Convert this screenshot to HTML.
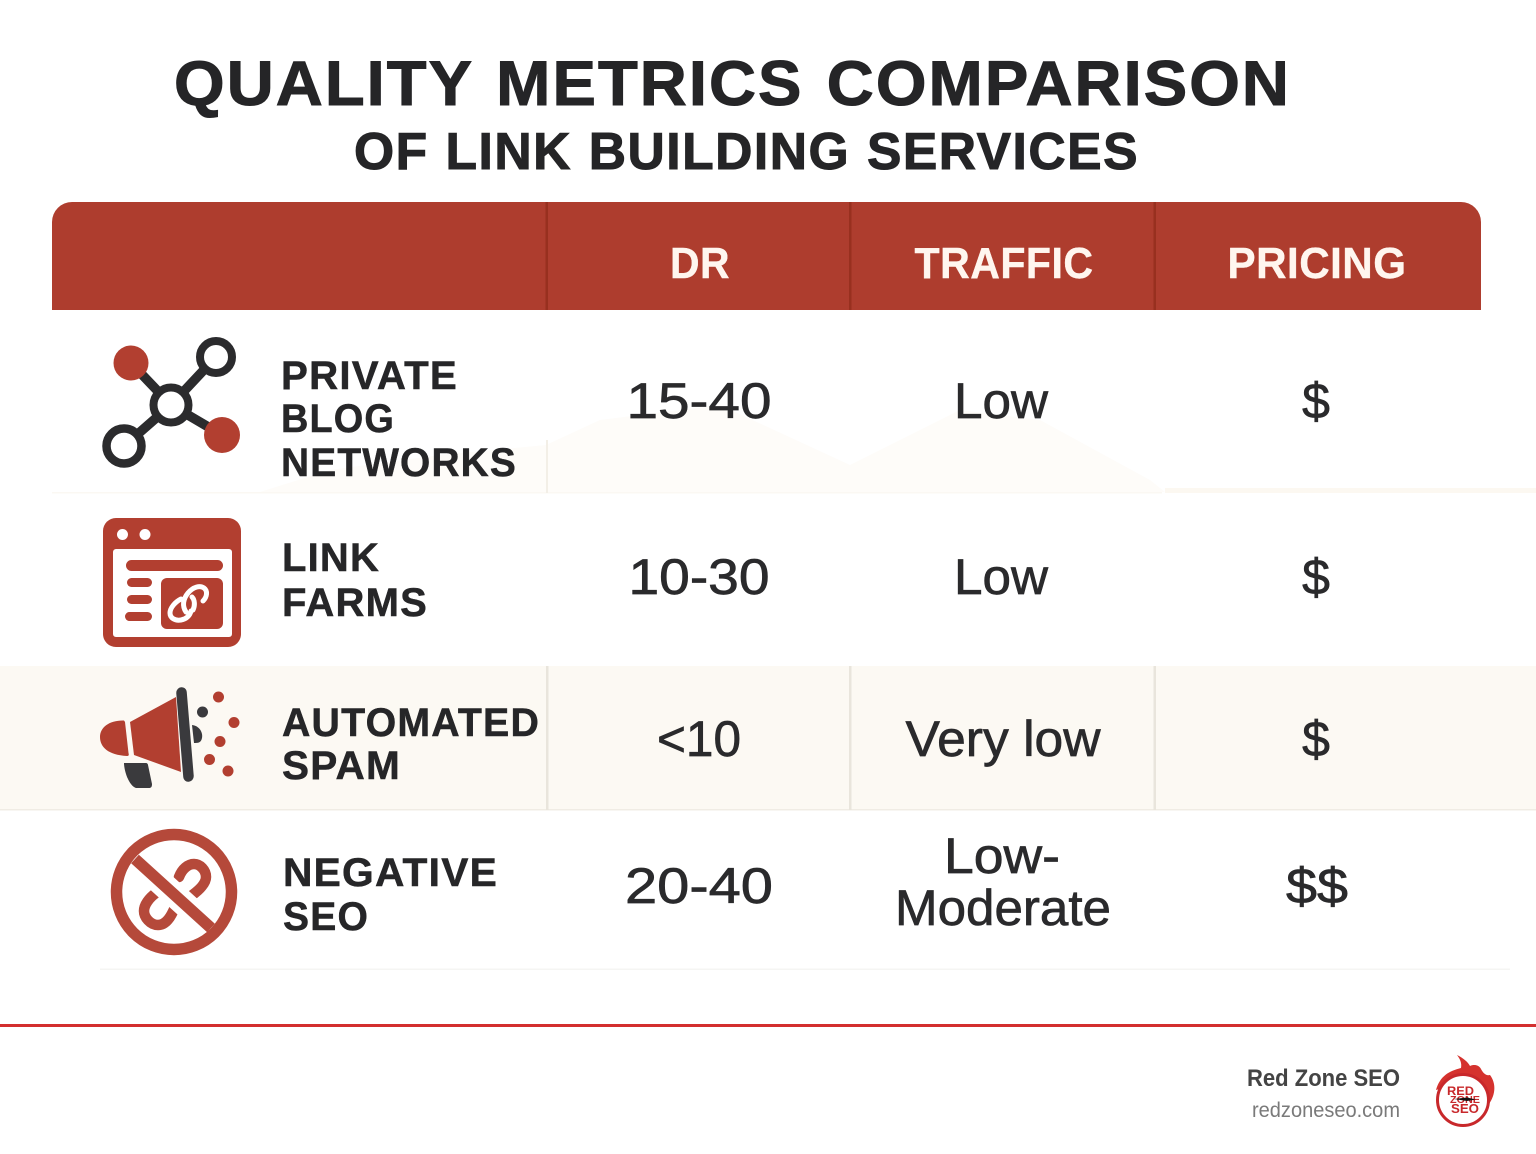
<!DOCTYPE html>
<html lang="en">
<head>
<meta charset="utf-8">
<title>Quality Metrics Comparison of Link Building Services</title>
<style>
html,body{margin:0;padding:0;background:#fff;width:1536px;height:1154px;overflow:hidden}
svg{display:block}
text{font-family:"Liberation Sans",sans-serif}
.t{fill:#252527;font-weight:700;stroke:#252527;stroke-width:1px}
.h{fill:#fff6ef;font-weight:700;font-size:44px;text-anchor:middle;letter-spacing:.5px;stroke:#fff6ef;stroke-width:.4px}
.r{fill:#262628;font-weight:700;font-size:40px;letter-spacing:1.2px;stroke:#262628;stroke-width:.5px}
.c{fill:#2a2a2c;font-size:50px;text-anchor:middle;stroke:#2a2a2c;stroke-width:.7px}
</style>
</head>
<body>
<svg xmlns="http://www.w3.org/2000/svg" width="1536" height="1154" viewBox="0 0 1536 1154">
<rect width="1536" height="1154" fill="#ffffff"/>

<text class="t" x="174" y="105" font-size="63" letter-spacing="2" word-spacing="3" textLength="1117" lengthAdjust="spacingAndGlyphs">QUALITY METRICS COMPARISON</text>
<text class="t" x="354" y="169" font-size="52" letter-spacing="1.5" word-spacing="1" textLength="785" lengthAdjust="spacingAndGlyphs">OF LINK BUILDING SERVICES</text>

<path d="M52 310V222a20 20 0 0 1 20-20H1461a20 20 0 0 1 20 20V310Z" fill="#ae3d2e"/>
<g fill="#98301f">
<rect x="545.500" y="202" width="2.500" height="108"/>
<rect x="849" y="202" width="2.500" height="108"/>
<rect x="1153.500" y="202" width="2.500" height="108"/>
</g>
<text class="h" x="700" y="278" textLength="60" lengthAdjust="spacingAndGlyphs">DR</text>
<text class="h" x="1004" y="278" textLength="179" lengthAdjust="spacingAndGlyphs">TRAFFIC</text>
<text class="h" x="1317" y="278" textLength="179" lengthAdjust="spacingAndGlyphs">PRICING</text>

<path d="M260 492L330 470 440 455 546 445 600 420 720 405 850 465 960 410 1040 420 1150 480 1165 492Z" fill="#fefcf9"/>
<rect x="0" y="666" width="1536" height="144" fill="#fcf9f3"/>
<g fill="#f0ece4">
<rect x="52" y="492" width="1110" height="1.500" fill="#fbf8f3"/>
<rect x="1165" y="488" width="371" height="5" fill="#fcf8f1"/>
<rect x="0" y="809" width="1536" height="1.500"/>
<rect x="100" y="968.500" width="1410" height="1.500" fill="#f5f5f3"/>
<rect x="546" y="440" width="2" height="53" fill="#f3efe7"/>
<rect x="546" y="666" width="2.500" height="144" fill="#e9e5dc"/>
<rect x="849" y="666" width="2.500" height="144" fill="#e9e5dc"/>
<rect x="1153.500" y="666" width="2.500" height="144" fill="#e9e5dc"/>
</g>

<g>
<g stroke="#2b2b2d" stroke-width="9.500" fill="none">
<path d="M131 363L171 405M216 357L171 405M124 446L171 405M222 435L171 405"/>
<circle cx="171" cy="405" r="17.500" fill="#fff" stroke-width="8"/>
<circle cx="216" cy="357" r="16" fill="#fff" stroke-width="8"/>
<circle cx="124" cy="446" r="17.500" fill="#fff" stroke-width="8.500"/>
</g>
<circle cx="131" cy="363" r="17.500" fill="#b23f30"/>
<circle cx="222" cy="435" r="18" fill="#b23f30"/>
</g>
<text class="r" x="281" y="389" textLength="177" lengthAdjust="spacingAndGlyphs">PRIVATE</text>
<text class="r" x="281" y="432" textLength="114" lengthAdjust="spacingAndGlyphs">BLOG</text>
<text class="r" x="281" y="476" textLength="236" lengthAdjust="spacingAndGlyphs">NETWORKS</text>
<text class="c" x="699" y="418" textLength="145" lengthAdjust="spacingAndGlyphs">15-40</text>
<text class="c" x="1001" y="418" textLength="94" lengthAdjust="spacingAndGlyphs">Low</text>
<text class="c" x="1316" y="418">$</text>

<g>
<rect x="103" y="518" width="138" height="129" rx="13" fill="#b23f30"/>
<rect x="113" y="549" width="119" height="88" rx="3" fill="#fff"/>
<circle cx="122.500" cy="534.500" r="5.500" fill="#fff"/>
<circle cx="145" cy="534.500" r="5.500" fill="#fff"/>
<rect x="126" y="560" width="97" height="11" rx="5.500" fill="#b23f30"/>
<rect x="127" y="578" width="25" height="9" rx="4.500" fill="#b23f30"/>
<rect x="127" y="595" width="25" height="9" rx="4.500" fill="#b23f30"/>
<rect x="125" y="612" width="27" height="9" rx="4.500" fill="#b23f30"/>
<rect x="161" y="578" width="62" height="51" rx="6" fill="#b23f30"/>
<g fill="none" stroke="#fff" stroke-width="5" stroke-linecap="round">
<path d="M181 599c-6 3-11 9-11 14s5 8 11 7 9-5 10-9"/>
<path d="M186 612c-4-6-3-13 2-19s12-8 16-5 3 9-1 13"/>
<path d="M192 597c3 3 3 9 1 13"/>
</g>
</g>
<text class="r" x="282" y="571" textLength="98" lengthAdjust="spacingAndGlyphs">LINK</text>
<text class="r" x="282" y="616" textLength="146" lengthAdjust="spacingAndGlyphs">FARMS</text>
<text class="c" x="699" y="594" textLength="141" lengthAdjust="spacingAndGlyphs">10-30</text>
<text class="c" x="1001" y="594" textLength="94" lengthAdjust="spacingAndGlyphs">Low</text>
<text class="c" x="1316" y="594">$</text>

<g>
<path d="M124 720.500C110 720 100 727 100 737S108 755 127 756C129 756 129 755 128.500 753L125 722Z" fill="#b23f30"/>
<path d="M130 722L176 697 181 772 134 755Z" fill="#b23f30"/>
<path d="M177 693c0-6 8-7 9-1l7 84c0 6-8 7-9 1Z" fill="#3a3a3d" stroke="#3a3a3d" stroke-width="1.500"/>
<path d="M124 763H146C147 763 148 764 148 765L152 784C152 787 151 788 149 788H136C131 787 125 776 124 764Z" fill="#3a3a3d"/>
<path d="M192 725C200 726 203 733 202 738S198 743 194 743Z" fill="#3a3a3d"/>
<circle cx="202.500" cy="712" r="5.500" fill="#3a3a3d"/>
<g fill="#b23f30">
<circle cx="218.500" cy="697" r="5.500"/>
<circle cx="234" cy="722.500" r="5.500"/>
<circle cx="220" cy="741.500" r="5.500"/>
<circle cx="209.500" cy="759.500" r="5.500"/>
<circle cx="228" cy="771" r="5.500"/>
</g>
</g>
<text class="r" x="282" y="736" textLength="258" lengthAdjust="spacingAndGlyphs">AUTOMATED</text>
<text class="r" x="282" y="779" textLength="119" lengthAdjust="spacingAndGlyphs">SPAM</text>
<text class="c" x="699" y="756" textLength="84" lengthAdjust="spacingAndGlyphs">&lt;10</text>
<text class="c" x="1003" y="756" textLength="195" lengthAdjust="spacingAndGlyphs">Very low</text>
<text class="c" x="1316" y="756">$</text>

<g fill="none" stroke="#b5493a">
<path d="M179 877c3-8 9-13 15-13s12 6 12 13-8 14-15 19" stroke-width="10.500" stroke-linecap="round"/>
<path d="M156 893c-7 5-12 12-12 18s6 14 14 14 13-8 17-18" stroke-width="10.500" stroke-linecap="round"/>
<path d="M135 859L211 928" stroke="#ffffff" stroke-width="25"/>
<circle cx="174" cy="892" r="57.500" stroke-width="11.500"/>
<path d="M135 859L211 928" stroke-width="11.500"/>
</g>
<text class="r" x="283" y="886" textLength="215" lengthAdjust="spacingAndGlyphs">NEGATIVE</text>
<text class="r" x="283" y="930" textLength="86" lengthAdjust="spacingAndGlyphs">SEO</text>
<text class="c" x="699" y="903" textLength="148" lengthAdjust="spacingAndGlyphs">20-40</text>
<text class="c" x="1002" y="873" textLength="116" lengthAdjust="spacingAndGlyphs">Low-</text>
<text class="c" x="1003" y="925" textLength="216" lengthAdjust="spacingAndGlyphs">Moderate</text>
<text class="c" x="1317" y="903" textLength="62" lengthAdjust="spacingAndGlyphs">$$</text>

<rect x="0" y="1024" width="1536" height="3" fill="#d32f2f"/>
<text x="1400" y="1086" font-size="24" font-weight="700" fill="#444" text-anchor="end" textLength="153" lengthAdjust="spacingAndGlyphs">Red Zone SEO</text>
<text x="1400" y="1117" font-size="21" fill="#7a7a7a" text-anchor="end" textLength="148" lengthAdjust="spacingAndGlyphs">redzoneseo.com</text>

<g>
<path d="M1436 1090C1440 1076 1449 1071 1461 1068 1462 1063 1460 1059 1457 1055 1463 1058 1468 1062 1470 1066 1474 1064 1479 1065 1481 1069 1483 1073 1486 1076 1490 1075 1496 1083 1496 1094 1489 1104L1470 1080Z" fill="#d5322e"/>
<circle cx="1463" cy="1100" r="25.500" fill="#fff" stroke="#c8282b" stroke-width="3"/>
<text x="1447" y="1095" font-size="12" font-weight="700" fill="#c8282b" textLength="27" lengthAdjust="spacingAndGlyphs">RED</text>
<text x="1450" y="1103" font-size="10" font-weight="700" fill="#c8282b" textLength="30" lengthAdjust="spacingAndGlyphs">ZONE</text>
<text x="1451" y="1113" font-size="13" font-weight="700" fill="#c8282b" textLength="28" lengthAdjust="spacingAndGlyphs">SEO</text>
<path d="M1454 1099l13-1.500 9 2-9 1.500Z" fill="#111"/>
</g>
</svg>
</body>
</html>
